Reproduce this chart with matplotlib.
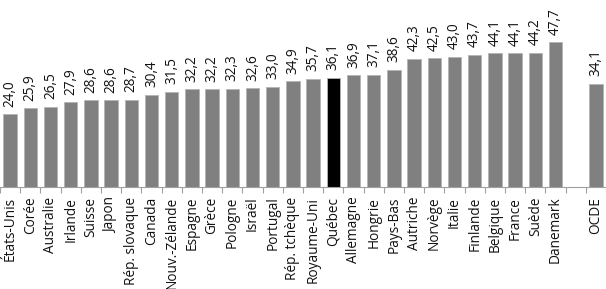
import matplotlib.pyplot as plt

# categories and values (Québec highlighted, empty slot before OCDE)
pays = ['États-Unis', 'Corée', 'Australie', 'Irlande', 'Suisse', 'Japon',
        'Rép. slovaque', 'Canada', 'Nouv.-Zélande', 'Espagne', 'Grèce',
        'Pologne', 'Israël', 'Portugal', 'Rép. tchèque', 'Royaume-Uni',
        'Québec', 'Allemagne', 'Hongrie', 'Pays-Bas', 'Autriche', 'Norvège',
        'Italie', 'Finlande', 'Belgique', 'France', 'Suède', 'Danemark',
        '', 'OCDE']
valeurs = [24.0, 25.9, 26.5, 27.9, 28.6, 28.6, 28.7, 30.4, 31.5, 32.2, 32.2,
           32.3, 32.6, 33.0, 34.9, 35.7, 36.1, 36.9, 37.1, 38.6, 42.3, 42.5,
           43.0, 43.7, 44.1, 44.1, 44.2, 47.7, None, 34.1]

plt.rcParams['font.family'] = ['Open Sans', 'DejaVu Sans']

fig = plt.figure(figsize=(6.06, 2.89), dpi=100)
ax = fig.add_axes([0, 0.353, 1, 0.647])

for i, (p, v) in enumerate(zip(pays, valeurs)):
    if v is None:
        continue
    couleur = '#000000' if p == 'Québec' else '#808080'
    ax.bar(i, v, width=0.66, color=couleur, edgecolor='#b4b4b4', linewidth=0.6)
    ax.annotate(f'{v:.1f}'.replace('.', ','), (i, v), xytext=(0, 5.5),
                textcoords='offset points', rotation=90, ha='center',
                va='bottom', fontsize=9.8, color='#111111')

ax.set_xlim(-0.335, len(pays) - 0.5)
ax.set_ylim(0, 61.7)

ax.set_xticks(range(len(pays)))
ax.set_xticklabels(pays, rotation=90, fontsize=9.8, color='#111111')
ax.tick_params(axis='x', which='major', length=0, pad=7)
ax.set_xticks([i + 0.5 for i in range(-1, len(pays))], minor=True)
ax.tick_params(axis='x', which='minor', length=4, width=0.8, color='#a0a0a0')
ax.set_yticks([])

for s in ['top', 'left', 'right']:
    ax.spines[s].set_visible(False)
ax.spines['bottom'].set_color('#a0a0a0')
ax.spines['bottom'].set_linewidth(0.8)

fig.savefig('out.png', dpi=100)
